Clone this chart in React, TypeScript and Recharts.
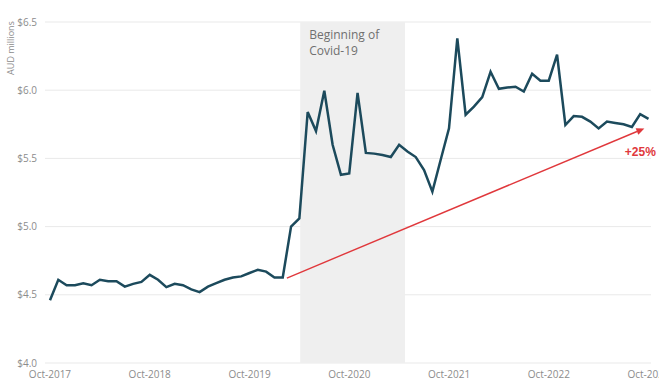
import {
  LineChart,
  Line,
  XAxis,
  YAxis,
  CartesianGrid,
  ReferenceArea,
  ReferenceLine,
} from 'recharts';

// Monthly values, Oct-2017 .. Oct-2023 (AUD millions)
const months = [
  'Oct-2017', 'Nov-2017', 'Dec-2017', 'Jan-2018', 'Feb-2018', 'Mar-2018', 'Apr-2018', 'May-2018', 'Jun-2018', 'Jul-2018', 'Aug-2018', 'Sep-2018',
  'Oct-2018', 'Nov-2018', 'Dec-2018', 'Jan-2019', 'Feb-2019', 'Mar-2019', 'Apr-2019', 'May-2019', 'Jun-2019', 'Jul-2019', 'Aug-2019', 'Sep-2019',
  'Oct-2019', 'Nov-2019', 'Dec-2019', 'Jan-2020', 'Feb-2020', 'Mar-2020', 'Apr-2020', 'May-2020', 'Jun-2020', 'Jul-2020', 'Aug-2020', 'Sep-2020',
  'Oct-2020', 'Nov-2020', 'Dec-2020', 'Jan-2021', 'Feb-2021', 'Mar-2021', 'Apr-2021', 'May-2021', 'Jun-2021', 'Jul-2021', 'Aug-2021', 'Sep-2021',
  'Oct-2021', 'Nov-2021', 'Dec-2021', 'Jan-2022', 'Feb-2022', 'Mar-2022', 'Apr-2022', 'May-2022', 'Jun-2022', 'Jul-2022', 'Aug-2022', 'Sep-2022',
  'Oct-2022', 'Nov-2022', 'Dec-2022', 'Jan-2023', 'Feb-2023', 'Mar-2023', 'Apr-2023', 'May-2023', 'Jun-2023', 'Jul-2023', 'Aug-2023', 'Sep-2023',
  'Oct-2023',
];

const values = [
  4.46, 4.61, 4.57, 4.57, 4.585, 4.57, 4.61, 4.6, 4.6, 4.56, 4.58, 4.595,
  4.646, 4.61, 4.556, 4.58, 4.57, 4.54, 4.52, 4.56, 4.585, 4.61, 4.627, 4.635,
  4.66, 4.683, 4.67, 4.627, 4.627, 5.0, 5.06, 5.84, 5.7, 5.996, 5.6, 5.38,
  5.39, 5.98, 5.54, 5.535, 5.525, 5.51, 5.6, 5.55, 5.51, 5.415, 5.256, 5.49,
  5.72, 6.38, 5.82, 5.88, 5.95, 6.135, 6.01, 6.02, 6.025, 5.99, 6.12, 6.07,
  6.07, 6.26, 5.745, 5.81, 5.805, 5.77, 5.72, 5.77, 5.76, 5.75, 5.73, 5.825,
  5.79,
];

const yTicks = [4.0, 4.5, 5.0, 5.5, 6.0, 6.5];
const xTicks = [0, 12, 24, 36, 48, 60, 72];

// Covid shading (month index range)
const covidStart = 30.1;
const covidEnd = 42.7;

// Growth arrow endpoints (month index, value)
const arrowFrom = { x: 28.5, y: 4.623 };
const arrowTo = { x: 71.5, y: 5.72 };
const arrowLabel = '+25%';

const data = months.map((m, i) => ({ idx: i, month: m, value: values[i] }));

const tickStyle = { fontSize: 10, fill: '#8c8c8c', fontFamily: 'Open Sans, sans-serif' };

const ArrowShape = (props: any) => {
  const { x1, y1, x2, y2 } = props;
  const ang = Math.atan2(y2 - y1, x2 - x1);
  const len = 8;
  const w = 3.5;
  const bx = x2 - len * Math.cos(ang);
  const by = y2 - len * Math.sin(ang);
  const px = -Math.sin(ang) * w;
  const py = Math.cos(ang) * w;
  return (
    <g>
      <line x1={x1} y1={y1} x2={bx} y2={by} stroke="#e0383c" strokeWidth={1.4} />
      <polygon
        points={`${x2},${y2} ${bx + px},${by + py} ${bx - px},${by - py}`}
        fill="#e0383c"
      />
      <text
        x={x2 - 4}
        y={y2 + 28}
        textAnchor="middle"
        fontSize={12}
        fontWeight={700}
        fill="#e0383c"
        fontFamily="Liberation Sans, Arial, sans-serif"
      >
        {arrowLabel}
      </text>
    </g>
  );
};

const CovidLabel = (props: any) => {
  const { viewBox } = props;
  const x = viewBox.x + 9;
  const y = viewBox.y + 17;
  return (
    <text x={x} y={y} fontSize={12} fill="#707070" fontFamily="Open Sans, sans-serif">
      <tspan x={x} dy={0}>Beginning of</tspan>
      <tspan x={x} dy={16}>Covid-19</tspan>
    </text>
  );
};

const AxisTitle = () => (
  <text
    x={14}
    y={48}
    transform="rotate(-90 14 48)"
    textAnchor="middle"
    fontSize={9}
    fill="#8c8c8c"
    fontFamily="Open Sans, sans-serif"
  >
    AUD millions
  </text>
);

export default function App() {
  return (
    <div style={{ position: 'absolute', left: 0, top: 0, width: 659, height: 378, background: '#fff', overflow: 'hidden' }}>
      <LineChart
        width={659}
        height={378}
        data={data}
        margin={{ top: 22, right: 8, bottom: 0, left: 0 }}
      >
        <CartesianGrid stroke="#e9e9e9" strokeWidth={1} vertical={false} />
        <ReferenceArea
          x1={covidStart}
          x2={covidEnd}
          y1={4.0}
          y2={6.5}
          fill="#efefef"
          fillOpacity={1}
          stroke="none"
          label={<CovidLabel />}
        />
        <XAxis
          dataKey="idx"
          type="number"
          domain={[-0.6, 72.3]}
          ticks={xTicks}
          tickFormatter={(v: number) => months[v]}
          axisLine={false}
          tickLine={false}
          tick={tickStyle}
          height={15}
          tickMargin={2}
          interval={0}
        />
        <YAxis
          type="number"
          domain={[4.0, 6.5]}
          ticks={yTicks}
          tickFormatter={(v: number) => `$${v.toFixed(1)}`}
          axisLine={false}
          tickLine={false}
          tick={tickStyle}
          width={45}
        />
        <ReferenceLine
          segment={[arrowFrom, arrowTo]}
          stroke="#e0383c"
          shape={<ArrowShape />}
        />
        <Line
          type="linear"
          dataKey="value"
          stroke="#1c4a5c"
          strokeWidth={2.5}
          dot={false}
          isAnimationActive={false}
        />
        <AxisTitle />
      </LineChart>
    </div>
  );
}
